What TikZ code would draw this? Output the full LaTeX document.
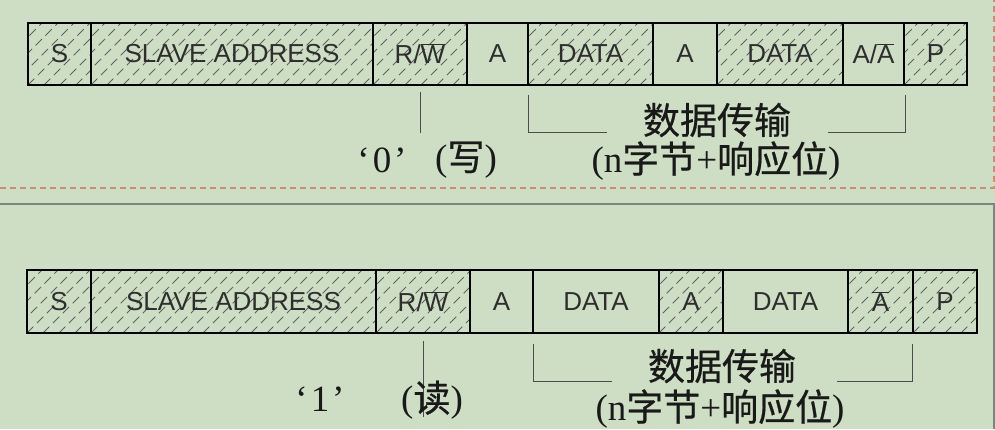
\documentclass[tikz,border=0pt]{standalone}
\usepackage{fontspec}
\setmainfont{Liberation Sans}
\newfontfamily\arialf{Liberation Sans}
\newfontfamily\timesf{Liberation Serif}
\newfontfamily\cjkf[FakeBold=0.6]{Noto Sans CJK SC}
\definecolor{bg}{RGB}{206,222,196}
\definecolor{salm}{RGB}{205,140,118}
\definecolor{grayl}{RGB}{120,135,125}
\tikzset{
  fld/.style={draw=black, line width=1.3pt, inner sep=0pt, outer sep=0pt,
    font=\arialf\fontsize{26}{30}\selectfont, text=black!82},
  hatch/.style={draw=black!62, line width=0.85pt, dash pattern=on 9pt off 5pt},
  note/.style={inner sep=0pt, text=black!90},
  brk/.style={draw=black!70, line width=0.9pt},
  sepred/.style={draw=salm, line width=1.2pt, dash pattern=on 6pt off 4pt},
  sepgray/.style={draw=grayl, line width=1.3pt},
}
% name, x1, x2, ytop, ybot, hatched(1/0), label
\newcommand\fbx[7]{%
  \ifnum#6=1
    \begin{scope}
      \clip (#2,#4) rectangle (#3,#5);
      \foreach \k in {-80,-64,...,320} \draw[hatch] (#2+\k,#5) -- ++(75,-75);
    \end{scope}
  \fi
  \node[fld, minimum width={(#3-#2)*1pt}, minimum height={(#5-#4)*1pt}]
    (#1) at ({(#2+#3)/2},{(#4+#5)/2}) {#7};
}
\newcommand\cn[1]{{\cjkf #1}}
\newcommand\lt[1]{{\timesf #1}}
\begin{document}
\begin{tikzpicture}[x=1pt,y=-1pt]
  \fill[bg] (0,0) rectangle (995,429);
  \useasboundingbox (0,0) rectangle (995,429);

  % separators
  \coordinate (sr0) at (0,188);
  \coordinate (sr1) at (994,188);
  \coordinate (sr2) at (994,0);
  \draw[sepred] (sr0) -- (sr1) -- (sr2);
  \coordinate (sg0) at (0,204);
  \coordinate (sg1) at (994,204);
  \coordinate (sg2) at (994,429);
  \draw[sepgray] (sg0) -- (sg1) -- (sg2);

  % ---- top frame (write) ----
  \fbx{ts}{28}{91}{23}{85}{1}{S}
  \fbx{tsa}{91}{373}{23}{85}{1}{SLAVE ADDRESS}
  \fbx{trw}{373}{467}{23}{85}{1}{R/$\overline{\hbox{W}}$}
  \fbx{ta1}{467}{528}{23}{85}{0}{A}
  \fbx{td1}{528}{653}{23}{85}{1}{DATA}
  \fbx{ta2}{653}{717}{23}{85}{0}{A}
  \fbx{td2}{717}{843}{23}{85}{1}{DATA}
  \fbx{ta3}{843}{904}{23}{85}{0}{A/$\overline{\hbox{A}}$}
  \fbx{tp}{904}{967}{23}{85}{1}{P}

  \coordinate (trwl) at (420,92);
  \coordinate (trwe) at (420,133);
  \draw[brk] (trwl) -- (trwe);
  \node[note, font=\timesf\fontsize{37}{40}\selectfont] (tq) at (382,160) {‘\kern3pt0\kern3pt’};
  \node[note, font=\fontsize{37}{40}\selectfont] (tw) at (466,160) {\lt{(}\cn{写}\lt{)}};

  \coordinate (tb1) at (528,95);
  \coordinate (tb2) at (528,132);
  \coordinate (tb3) at (607,132);
  \coordinate (tb4) at (828,132);
  \coordinate (tb5) at (905,132);
  \coordinate (tb6) at (905,95);
  \draw[brk] (tb1) -- (tb2) -- (tb3);
  \draw[brk] (tb4) -- (tb5) -- (tb6);
  \node[note, font=\cjkf\fontsize{37}{40}\selectfont] (tt1) at (717,120) {数据传输};
  \node[note, font=\fontsize{37}{40}\selectfont] (tt2) at (716,161)
    {\lt{(n}\cn{字节}\lt{+}\cn{响应位}\lt{)}};

  % ---- bottom frame (read) ----
  \fbx{bs}{27}{91}{270}{333}{1}{S}
  \fbx{bsa}{91}{376}{270}{333}{1}{SLAVE ADDRESS}
  \fbx{brw}{376}{470}{270}{333}{1}{R/$\overline{\hbox{W}}$}
  \fbx{ba1}{470}{533}{270}{333}{0}{A}
  \fbx{bd1}{533}{659}{270}{333}{0}{DATA}
  \fbx{ba2}{659}{723}{270}{333}{1}{A}
  \fbx{bd2}{723}{848}{270}{333}{0}{DATA}
  \fbx{ba3}{848}{913}{270}{333}{1}{$\overline{\hbox{A}}$}
  \fbx{bp}{913}{977}{270}{333}{1}{P}

  \coordinate (brwl) at (423,341);
  \coordinate (brwe) at (423,417);
  \draw[brk] (brwl) -- (brwe);
  \node[note, font=\timesf\fontsize{37}{40}\selectfont] (bq) at (320,399) {‘\kern3pt1\kern3pt’};
  \node[note, font=\fontsize{37}{40}\selectfont] (bw) at (432,400) {\lt{(}\cn{读}\lt{)}};

  \coordinate (bb1) at (533,344);
  \coordinate (bb2) at (533,381);
  \coordinate (bb3) at (612,381);
  \coordinate (bb4) at (837,381);
  \coordinate (bb5) at (912,381);
  \coordinate (bb6) at (912,344);
  \draw[brk] (bb1) -- (bb2) -- (bb3);
  \draw[brk] (bb4) -- (bb5) -- (bb6);
  \node[note, font=\cjkf\fontsize{37}{40}\selectfont] (bt1) at (722,366) {数据传输};
  \node[note, font=\fontsize{37}{40}\selectfont] (bt2) at (720,409)
    {\lt{(n}\cn{字节}\lt{+}\cn{响应位}\lt{)}};
\end{tikzpicture}
\end{document}
